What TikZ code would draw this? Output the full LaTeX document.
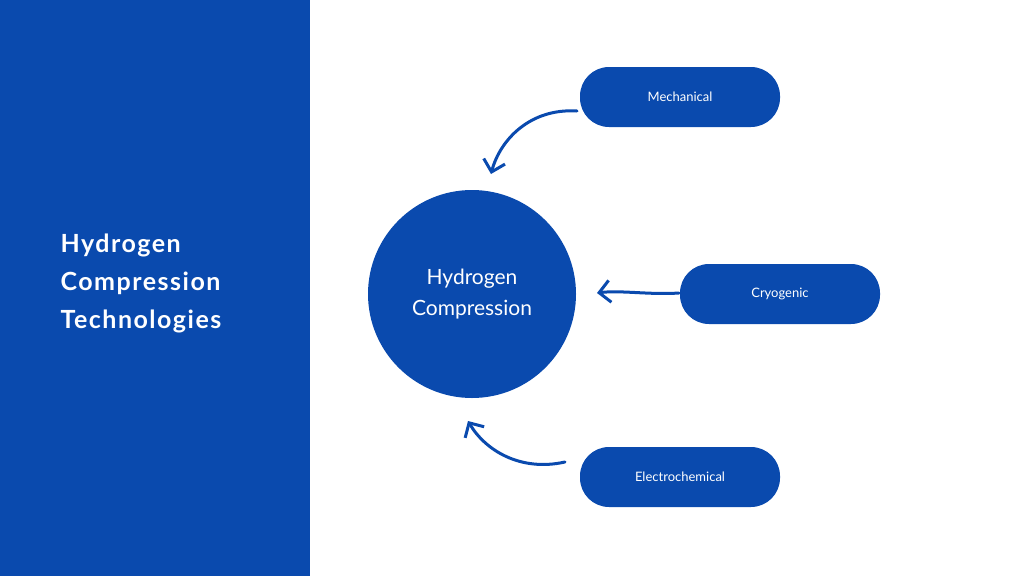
\documentclass[tikz,border=0pt]{standalone}
\usepackage{fontspec}
\setmainfont{Lato}
\usetikzlibrary{arrows.meta}
\definecolor{bl}{HTML}{0A4AAE}
\begin{document}
\begin{tikzpicture}[x=1pt,y=-1pt,
  pill/.style={fill=bl,rounded corners=29pt,minimum width=200pt,minimum height=60pt,text=white,font=\fontsize{13}{15}\selectfont},
  arr/.style={draw=bl,line width=3pt,line cap=round,-{Straight Barb[length=11pt,width=22pt,line width=3pt]}}]
\useasboundingbox (0,0) rectangle (1024,576);
\fill[bl] (0,0) rectangle (310,576);
\node[anchor=west,text=white,font=\fontsize{25}{38}\selectfont\bfseries,align=left] (title) at (57,283) {\addfontfeature{LetterSpace=6}Hydrogen\\\addfontfeature{LetterSpace=6}Compression\\\addfontfeature{LetterSpace=6}Technologies};
\node[circle,fill=bl,minimum size=208pt,text=white,font=\fontsize{21}{31}\selectfont,align=center] (c) at (472,294) {Hydrogen\\Compression};
\node[pill] (m) at (680,97) {Mechanical};
\node[pill] (cr) at (780,294) {Cryogenic};
\node[pill] (e) at (680,477) {Electrochemical};
\coordinate (m1) at (577,111);
\coordinate (m2) at (491,174);
\coordinate (c1) at (679,293);
\coordinate (c2) at (597,293);
\coordinate (e1) at (565,462);
\coordinate (e2) at (468,421);
\draw[arr] (m1) .. controls (530,108) and (500,140) .. (m2);
\draw[arr] (c1) .. controls (650,295) and (620,290) .. (c2);
\draw[arr] (e1) .. controls (520,472) and (485,450) .. (e2);
\end{tikzpicture}
\end{document}
